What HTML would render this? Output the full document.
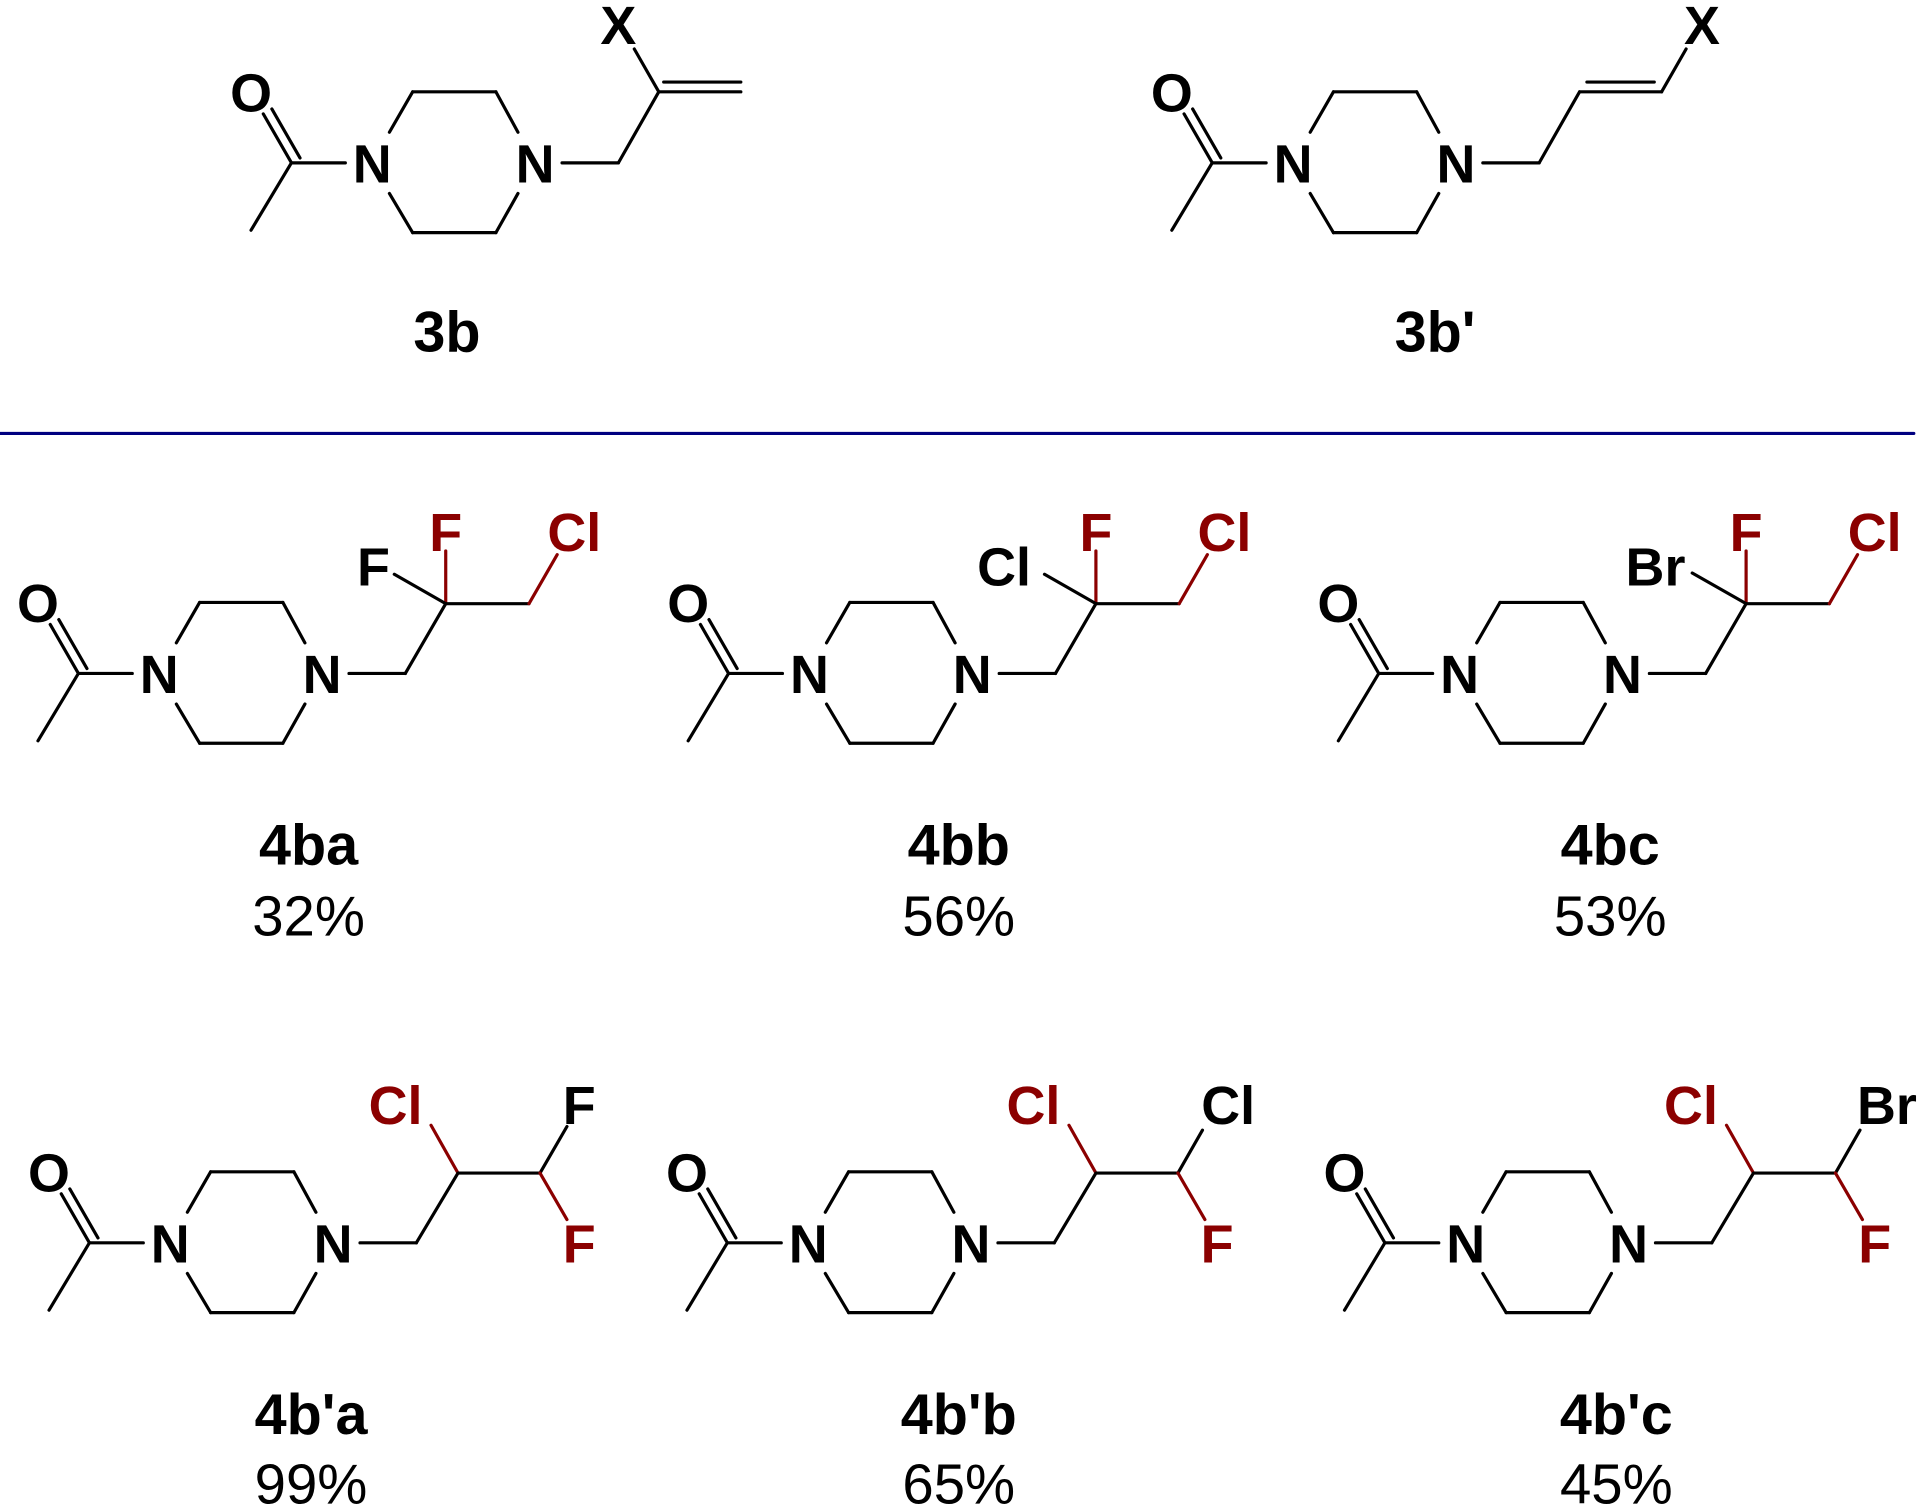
<!DOCTYPE html>
<html><head><meta charset="utf-8"><style>
html,body{margin:0;padding:0;background:#fff;}
svg{display:block;}
text{font-family:"Liberation Sans",Arial,sans-serif;font-weight:bold;font-size:44px;text-anchor:middle;}
text.lab{font-size:47px;}
.r{fill:#8b0000;}
text.n{font-weight:normal;font-size:46px;}
line{stroke:#000;stroke-width:2.6;stroke-linecap:round;}
line.rb{stroke:#8b0000;}
</style></head><body>
<svg width="1920" height="1504" viewBox="0 0 1568 1228.3" xmlns="http://www.w3.org/2000/svg">
<defs>
<g id="core">
<line x1="-99" y1="55" x2="-66" y2="0"/>
<line x1="-66" y1="0" x2="-22" y2="0"/>
<line x1="-66" y1="0" x2="-89" y2="-40"/>
<line x1="-59" y1="-4" x2="-82" y2="-44"/>
<line x1="14" y1="-25" x2="33" y2="-58"/>
<line x1="33" y1="-58" x2="101" y2="-58"/>
<line x1="101" y1="-58" x2="119" y2="-25"/>
<line x1="119" y1="25" x2="101" y2="57"/>
<line x1="101" y1="57" x2="33" y2="57"/>
<line x1="33" y1="57" x2="14" y2="25"/>
<line x1="155" y1="0" x2="201" y2="0"/>
</g>
</defs>

<!-- 3b -->
<g transform="translate(304,133)">
<use href="#core"/>
<text x="0" y="16">N</text><text x="133" y="16">N</text><text x="-99" y="-42">O</text>
<line x1="201" y1="0" x2="234" y2="-58"/>
<line x1="234" y1="-58" x2="301" y2="-58"/>
<line x1="238" y1="-66" x2="301" y2="-66"/>
<line x1="234" y1="-58" x2="214" y2="-93"/>
<text x="201" y="-97">X</text>
</g>
<text class="lab" x="365" y="287">3b</text>

<!-- 3b' -->
<g transform="translate(1056,133)">
<use href="#core"/>
<text x="0" y="16">N</text><text x="133" y="16">N</text><text x="-99" y="-42">O</text>
<line x1="201" y1="0" x2="234" y2="-58"/>
<line x1="234" y1="-58" x2="301" y2="-58"/>
<line x1="240" y1="-66" x2="295" y2="-66"/>
<line x1="301" y1="-58" x2="321" y2="-93"/>
<text x="334" y="-97">X</text>
</g>
<text class="lab" x="1172" y="287">3b'</text>

<line x1="0" y1="354" x2="1563" y2="354" style="stroke:#000080;stroke-width:2.5"/>

<!-- 4ba -->
<g transform="translate(130,550)">
<use href="#core"/>
<text x="0" y="16">N</text><text x="133" y="16">N</text><text x="-99" y="-42">O</text>
<line x1="201" y1="0" x2="234" y2="-57"/>
<line class="rb" x1="234" y1="-57" x2="234" y2="-100"/>
<line x1="234" y1="-57" x2="192" y2="-81"/>
<line x1="234" y1="-57" x2="302" y2="-57"/>
<line class="rb" x1="302" y1="-57" x2="325" y2="-97"/>
<text class="r" x="234" y="-100">F</text>
<text x="175" y="-72">F</text>
<text class="r" x="339" y="-100">Cl</text>
</g>
<text class="lab" x="252" y="706">4ba</text><text class="n" x="252" y="764">32%</text>

<!-- 4bb -->
<g transform="translate(661,550)">
<use href="#core"/>
<text x="0" y="16">N</text><text x="133" y="16">N</text><text x="-99" y="-42">O</text>
<line x1="201" y1="0" x2="234" y2="-57"/>
<line class="rb" x1="234" y1="-57" x2="234" y2="-100"/>
<line x1="234" y1="-57" x2="192" y2="-81"/>
<line x1="234" y1="-57" x2="302" y2="-57"/>
<line class="rb" x1="302" y1="-57" x2="325" y2="-97"/>
<text class="r" x="234" y="-100">F</text>
<text x="159" y="-72">Cl</text>
<text class="r" x="339" y="-100">Cl</text>
</g>
<text class="lab" x="783" y="706">4bb</text><text class="n" x="783" y="764">56%</text>

<!-- 4bc -->
<g transform="translate(1192,550)">
<use href="#core"/>
<text x="0" y="16">N</text><text x="133" y="16">N</text><text x="-99" y="-42">O</text>
<line x1="201" y1="0" x2="234" y2="-57"/>
<line class="rb" x1="234" y1="-57" x2="234" y2="-100"/>
<line x1="234" y1="-57" x2="190" y2="-82"/>
<line x1="234" y1="-57" x2="302" y2="-57"/>
<line class="rb" x1="302" y1="-57" x2="325" y2="-97"/>
<text class="r" x="234" y="-100">F</text>
<text x="160" y="-72">Br</text>
<text class="r" x="339" y="-100">Cl</text>
</g>
<text class="lab" x="1315" y="706">4bc</text><text class="n" x="1315" y="764">53%</text>

<!-- 4b'a -->
<g transform="translate(139,1015)">
<use href="#core"/>
<text x="0" y="16">N</text><text x="133" y="16">N</text><text x="-99" y="-42">O</text>
<line x1="201" y1="0" x2="235" y2="-57"/>
<line class="rb" x1="235" y1="-57" x2="213" y2="-96"/>
<line x1="235" y1="-57" x2="302" y2="-57"/>
<line x1="302" y1="-57" x2="324" y2="-95"/>
<line class="rb" x1="302" y1="-57" x2="324" y2="-19"/>
<text class="r" x="184" y="-97">Cl</text>
<text x="334" y="-97">F</text>
<text class="r" x="334" y="16">F</text>
</g>
<text class="lab" x="254" y="1171">4b'a</text><text class="n" x="254" y="1228">99%</text>

<!-- 4b'b -->
<g transform="translate(660,1015)">
<use href="#core"/>
<text x="0" y="16">N</text><text x="133" y="16">N</text><text x="-99" y="-42">O</text>
<line x1="201" y1="0" x2="235" y2="-57"/>
<line class="rb" x1="235" y1="-57" x2="213" y2="-96"/>
<line x1="235" y1="-57" x2="302" y2="-57"/>
<line x1="302" y1="-57" x2="322" y2="-92"/>
<line class="rb" x1="302" y1="-57" x2="324" y2="-19"/>
<text class="r" x="184" y="-97">Cl</text>
<text x="343" y="-97">Cl</text>
<text class="r" x="334" y="16">F</text>
</g>
<text class="lab" x="783" y="1171">4b'b</text><text class="n" x="783" y="1228">65%</text>

<!-- 4b'c -->
<g transform="translate(1197,1015)">
<use href="#core"/>
<text x="0" y="16">N</text><text x="133" y="16">N</text><text x="-99" y="-42">O</text>
<line x1="201" y1="0" x2="235" y2="-57"/>
<line class="rb" x1="235" y1="-57" x2="213" y2="-96"/>
<line x1="235" y1="-57" x2="302" y2="-57"/>
<line x1="302" y1="-57" x2="322" y2="-92"/>
<line class="rb" x1="302" y1="-57" x2="324" y2="-19"/>
<text class="r" x="184" y="-97">Cl</text>
<text x="344" y="-97">Br</text>
<text class="r" x="334" y="16">F</text>
</g>
<text class="lab" x="1320" y="1171">4b'c</text><text class="n" x="1320" y="1228">45%</text>
</svg>
</body></html>
